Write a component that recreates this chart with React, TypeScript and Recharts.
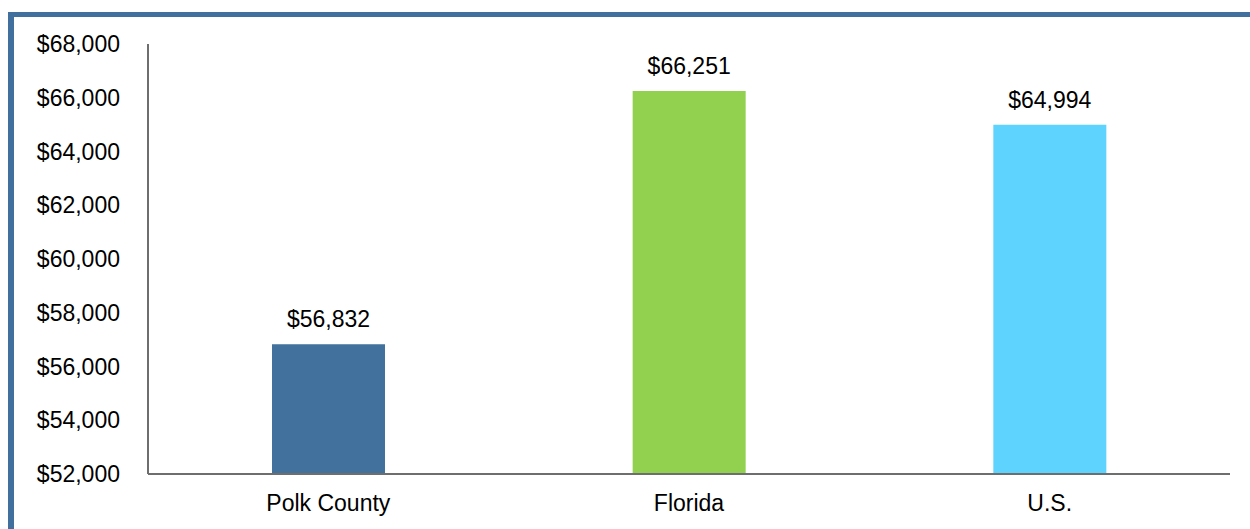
import { BarChart, Bar, XAxis, YAxis, Cell, LabelList } from 'recharts'

const areas = ['Polk County', 'Florida', 'U.S.']
const incomes = [56832, 66251, 64994]
const barColors = ['#41719c', '#92d050', '#5dd3fe']
const yTicks = [52000, 54000, 56000, 58000, 60000, 62000, 64000, 66000, 68000]

const data = areas.map((name, i) => ({ name, value: incomes[i] }))

const money = (v: number) => '$' + v.toLocaleString('en-US')

const font = '"Liberation Sans", Arial, sans-serif'

export default function App() {
  return (
    <div
      style={{
        position: 'absolute',
        left: 8,
        top: 12,
        width: 1242,
        height: 517,
        boxSizing: 'border-box',
        borderTop: '5px solid #41709e',
        borderLeft: '6px solid #41709e',
        background: '#fff',
        fontFamily: font,
      }}
    >
      <BarChart
        width={1236}
        height={512}
        data={data}
        margin={{ top: 27, right: 20, bottom: 15, left: 0 }}
        barSize={113}
      >
        <XAxis
          dataKey="name"
          height={40}
          tickLine={false}
          tickSize={0}
          tickMargin={21}
          axisLine={{ stroke: '#6e6e6e', strokeWidth: 2 }}
          tick={{ fill: '#000', fontSize: 23, fontFamily: font }}
        />
        <YAxis
          width={134}
          domain={[52000, 68000]}
          ticks={yTicks}
          allowDataOverflow
          tickLine={false}
          tickSize={0}
          tickMargin={28}
          tickFormatter={money}
          axisLine={{ stroke: '#6e6e6e', strokeWidth: 2 }}
          tick={{ fill: '#000', fontSize: 23, fontFamily: font }}
        />
        <Bar dataKey="value" isAnimationActive={false}>
          {data.map((d, i) => (
            <Cell key={d.name} fill={barColors[i]} />
          ))}
          <LabelList
            dataKey="value"
            position="top"
            offset={17}
            formatter={(v: any) => money(Number(v))}
            style={{ fill: '#000', fontSize: 23, fontFamily: font }}
          />
        </Bar>
      </BarChart>
    </div>
  )
}
